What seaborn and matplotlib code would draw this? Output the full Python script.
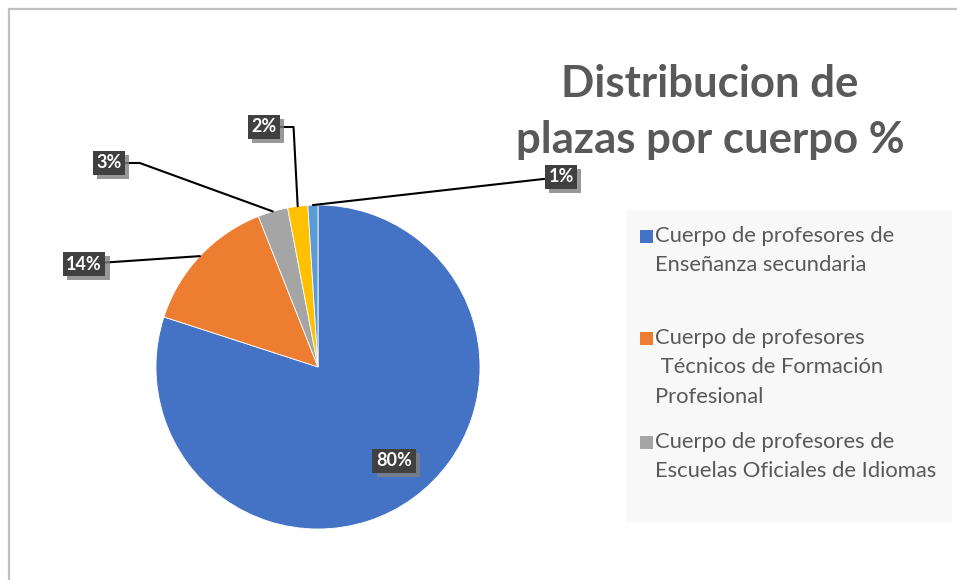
import matplotlib
matplotlib.use("Agg")
import matplotlib.pyplot as plt
from matplotlib.patches import Rectangle
import matplotlib.patheffects as pe
import numpy as np
import seaborn as sns

# datos del grafico
cuerpos = [
    "Cuerpo de profesores de\nEnseñanza secundaria",
    "Cuerpo de profesores\n Técnicos de Formación\nProfesional",
    "Cuerpo de profesores de\nEscuelas Oficiales de Idiomas",
    "Cuerpo de profesores de\nMúsica y Artes Escénicas",
    "Cuerpo de profesores de\nArtes Plásticas y Diseño",
]
porcentajes = [80, 14, 3, 2, 1]
etiquetas = ["80%", "14%", "3%", "2%", "1%"]
colores = sns.color_palette(["#4472C4", "#ED7D31", "#A5A5A5", "#FFC000", "#5B9BD5"])

sns.set_theme(style="white")
plt.rcParams["font.family"] = ["Lato", "DejaVu Sans"]

W, H = 957, 580
fig = plt.figure(figsize=(W / 100, H / 100), dpi=100)
fig.patch.set_facecolor("white")

# marco del grafico (solo se ve arriba y a la izquierda)
fig.add_artist(Rectangle((8.5 / W, -0.1), 2, (H - 9.5) / H + 0.1, transform=fig.transFigure,
                         fill=False, edgecolor="#bfbfbf", lw=1.6))

# pastel
cx, cy, r = 318, 367, 162
ax = fig.add_axes([(cx - r) / W, (H - cy - r) / H, 2 * r / W, 2 * r / H])
wedges, _ = ax.pie(porcentajes, colors=colores, startangle=90, counterclock=False, radius=1,
                   wedgeprops=dict(edgecolor="white", linewidth=0.6))
ax.set_xlim(-1, 1)
ax.set_ylim(-1, 1)
ax.axis("off")

# posiciones de las etiquetas (pixeles de la imagen)
pos_etiq = [(394, 461), (84, 264), (109, 163), (264, 127), (561, 177)]
estilos = [None, "arc3", "angle,angleA=0,angleB=160,rad=0", "angle,angleA=0,angleB=93,rad=0", "arc3"]
sombra = [pe.SimplePatchShadow(offset=(3, -3), shadow_rgbFace="#7f7f7f", alpha=0.8), pe.Normal()]

for i, (w, txt) in enumerate(zip(wedges, etiquetas)):
    ang = np.deg2rad((w.theta1 + w.theta2) / 2)
    px, py = pos_etiq[i]
    xy_txt = (px, H - py)
    if estilos[i] is None:
        t = ax.annotate(txt, xy=(0, 0), xytext=xy_txt, textcoords="figure pixels",
                        ha="center", va="center", fontsize=13, fontweight="bold", color="white",
                        bbox=dict(boxstyle="square,pad=0.2", fc="#404040", ec="none"))
    else:
        t = ax.annotate(txt, xy=(np.cos(ang), np.sin(ang)), xytext=xy_txt, textcoords="figure pixels",
                        ha="center", va="center", fontsize=13, fontweight="bold", color="white",
                        bbox=dict(boxstyle="square,pad=0.2", fc="#404040", ec="none"),
                        arrowprops=dict(arrowstyle="-", color="black", lw=1.5,
                                        connectionstyle=estilos[i], shrinkA=0, shrinkB=0),
                        annotation_clip=False)
    t.get_bbox_patch().set_path_effects(sombra)

# titulo
fig.text(710 / W, 1 - 112 / H, "Distribucion de\nplazas por cuerpo %", ha="center", va="center",
         fontsize=31.5, fontweight="bold", color="#595959", linespacing=1.48)

# leyenda (solo se ven las tres primeras entradas)
fig.add_artist(Rectangle((626 / W, (H - 522) / H), 326 / W, 312 / H, transform=fig.transFigure,
                         facecolor="#f8f8f8", edgecolor="none"))
leg_y = [236, 338, 442]
for i in range(3):
    y = leg_y[i]
    fig.add_artist(Rectangle((640 / W, (H - y - 6.5) / H), 13 / W, 13 / H, transform=fig.transFigure,
                             facecolor=colores[i], edgecolor="none"))
    fig.text(655 / W, (H - y + 10) / H, cuerpos[i], ha="left", va="top",
             fontsize=15.8, color="#595959", linespacing=1.58)

plt.savefig("out.png", dpi=100)
